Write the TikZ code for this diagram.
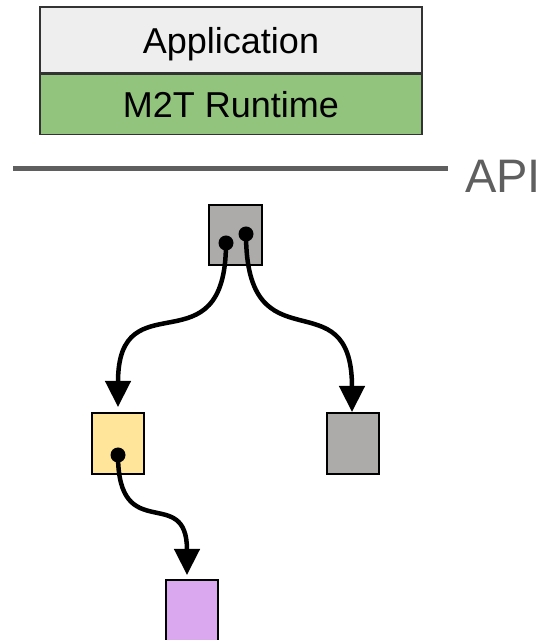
\documentclass[tikz,border=0pt]{standalone}
\usepackage{fontspec}
\setmainfont{Liberation Sans}
\usetikzlibrary{arrows.meta}
\definecolor{appgray}{HTML}{EEEEEE}
\definecolor{rtgreen}{HTML}{93C47D}
\definecolor{objgray}{HTML}{ADAAAA}
\definecolor{objyellow}{HTML}{FFE599}
\definecolor{objpurple}{HTML}{D9A8EE}
\definecolor{apigray}{HTML}{5F5F5F}
\tikzset{
  layer/.style={draw=black!80, line width=1.5pt, minimum width=382pt, inner sep=0pt,
    text depth=0pt, font=\fontsize{36}{40}\selectfont},
  obj/.style={draw=black, line width=2pt, minimum width=52pt, minimum height=60pt, inner sep=0pt},
  ptr/.style={line width=4.5pt, -{Triangle[length=26pt, width=25pt]}},
  dot/.style={fill=black, draw=none}
}
\begin{document}
\begin{tikzpicture}[x=1pt, y=1pt]
  \useasboundingbox (0,0) rectangle (541,640);

  % software stack
  \node[layer, fill=appgray, minimum height=66pt] (app) at (231,600) {Application};
  \node[layer, fill=rtgreen, minimum height=60pt, anchor=north] (rt) at (app.south) {M2T Runtime};

  % API boundary
  \coordinate (apiL) at (13,471);
  \coordinate (apiR) at (448,471);
  \draw[apigray, line width=5pt] (apiL) -- (apiR);
  \node[anchor=base west, text=apigray, inner sep=0pt, font=\fontsize{47}{50}\selectfont] (api) at (465,447) {API};

  % object graph
  \node[obj, fill=objgray, minimum width=53pt] (root) at (235.5,405) {};
  \node[obj, fill=objyellow, minimum height=61pt] (left) at (118,196.5) {};
  \node[obj, fill=objgray, minimum height=61pt] (right) at (353,196.5) {};
  \node[obj, fill=objpurple, minimum height=61pt] (leaf) at (192,29.5) {};

  % pointer fields
  \coordinate (p1) at (226,397);
  \coordinate (p2) at (246,406);
  \coordinate (p3) at (118,185);
  \coordinate (t1) at (118,233);
  \coordinate (t2) at (352,228);
  \coordinate (t3) at (187,65);

  \draw[ptr] (p1) to[out=-90, in=90, looseness=1.7] (t1);
  \draw[ptr] (p2) to[out=-90, in=90, looseness=1.7] (t2);
  \draw[ptr] (p3) to[out=-90, in=90, looseness=1.7] (t3);

  \fill[dot] (p1) circle (7.5pt);
  \fill[dot] (p2) circle (7.5pt);
  \fill[dot] (p3) circle (7.5pt);
\end{tikzpicture}
\end{document}
